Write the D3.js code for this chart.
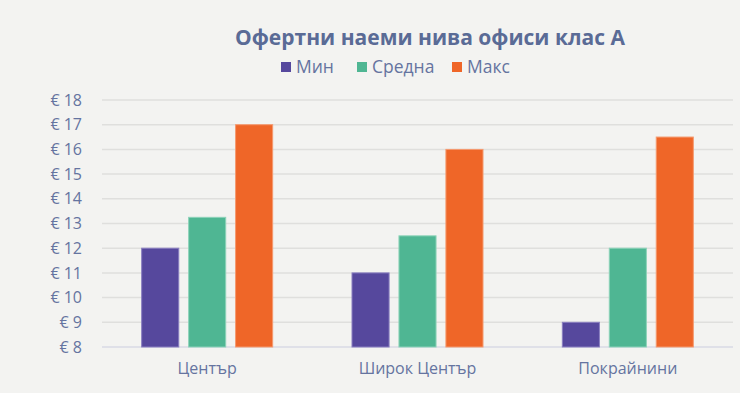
<!DOCTYPE html>
<html>
<head>
<meta charset="utf-8">
<script src="https://cdn.jsdelivr.net/npm/d3@7"></script>
<style>
    body { margin: 0; background: #f3f3f1; }
    svg { display: block; font-family: "Open Sans", sans-serif; }
</style>
</head>
<body>
<div class="graph"></div>
<script>
// Chart data
const categories = ["Център", "Широк Център", "Покрайнини"];
const seriesNames = ["Мин", "Средна", "Макс"];
const minValues = [12, 11, 9];
const avgValues = [13.25, 12.5, 12];
const maxValues = [17, 16, 16.5];
const yTicks = [8, 9, 10, 11, 12, 13, 14, 15, 16, 17, 18];

const colors = ["#56489d", "#4fb693", "#ef6628"];
const strokes = ["#8a7fc0", "#8dd3b9", "#f59a6f"];

const dimensions = {
    width: 740,
    height: 393,
    margins: { top: 100, right: 7, bottom: 46, left: 102 }
};
dimensions.boundedWidth = dimensions.width - dimensions.margins.left - dimensions.margins.right;
dimensions.boundedHeight = dimensions.height - dimensions.margins.top - dimensions.margins.bottom;

const wrapper = d3.select(".graph")
    .append("svg")
        .attr("width", dimensions.width)
        .attr("height", dimensions.height);

const bounds = wrapper.append("g")
    .attr("transform", `translate(${dimensions.margins.left},${dimensions.margins.top})`);

// Scales
const yScale = d3.scaleLinear()
    .domain([8, 18])
    .range([dimensions.boundedHeight, 0]);

const xScale = d3.scaleBand()
    .domain(categories)
    .range([0, dimensions.boundedWidth]);

const innerScale = d3.scaleBand()
    .domain(seriesNames)
    .range([0, 131])
    .paddingInner(0.21);

// Gridlines
bounds.append("g")
    .selectAll("line")
    .data(yTicks)
    .join("line")
        .attr("x1", 0)
        .attr("x2", dimensions.boundedWidth)
        .attr("y1", d => yScale(d))
        .attr("y2", d => yScale(d))
        .attr("stroke", d => d === 8 ? "#d8dae4" : "#dfdfdd")
        .attr("stroke-width", 1.5);

// Y axis labels
const yAxis = bounds.append("g")
    .call(d3.axisLeft(yScale).tickValues(yTicks).tickSize(0).tickPadding(20)
        .tickFormat(d => "€ " + d));
yAxis.select(".domain").remove();
yAxis.selectAll("text")
    .attr("fill", "#6574a0")
    .style("font-size", "16px")
    .style("font-family", "Open Sans");

// X axis labels
const xAxis = bounds.append("g")
    .attr("transform", `translate(0,${dimensions.boundedHeight})`)
    .call(d3.axisBottom(xScale).tickSize(0).tickPadding(16));
xAxis.select(".domain").remove();
xAxis.selectAll("text")
    .attr("fill", "#6574a0")
    .style("font-size", "16px")
    .style("font-family", "Open Sans");

// Bars
const series = [minValues, avgValues, maxValues];
const rows = [];
categories.forEach((c, i) => {
    series.forEach((vals, j) => {
        rows.push({ category: c, name: seriesNames[j], value: vals[i], idx: j });
    });
});

bounds.append("g")
    .selectAll("rect")
    .data(rows)
    .join("rect")
        .attr("x", d => xScale(d.category) + xScale.bandwidth() / 2 - 65.5 + innerScale(d.name))
        .attr("width", innerScale.bandwidth())
        .attr("y", d => yScale(d.value))
        .attr("height", d => yScale(8) - yScale(d.value))
        .attr("fill", d => colors[d.idx])
        .attr("stroke", d => strokes[d.idx])
        .attr("stroke-width", 1);

// Title
wrapper.append("text")
    .attr("x", 430)
    .attr("y", 45)
    .attr("text-anchor", "middle")
    .attr("fill", "#5a6b96")
    .style("font-size", "21px")
    .style("font-weight", "bold")
    .text("Офертни наеми нива офиси клас А");

// Legend
const legendX = [281, 357, 452];
const legend = wrapper.append("g")
    .selectAll("g")
    .data(seriesNames)
    .join("g")
        .attr("transform", (d, i) => `translate(${legendX[i]},62)`);
legend.append("rect")
    .attr("width", 10)
    .attr("height", 10)
    .attr("fill", (d, i) => colors[i]);
legend.append("text")
    .attr("x", 15)
    .attr("y", 11)
    .attr("fill", "#6574a0")
    .style("font-size", "17.5px")
    .text(d => d);
</script>
</body>
</html>
